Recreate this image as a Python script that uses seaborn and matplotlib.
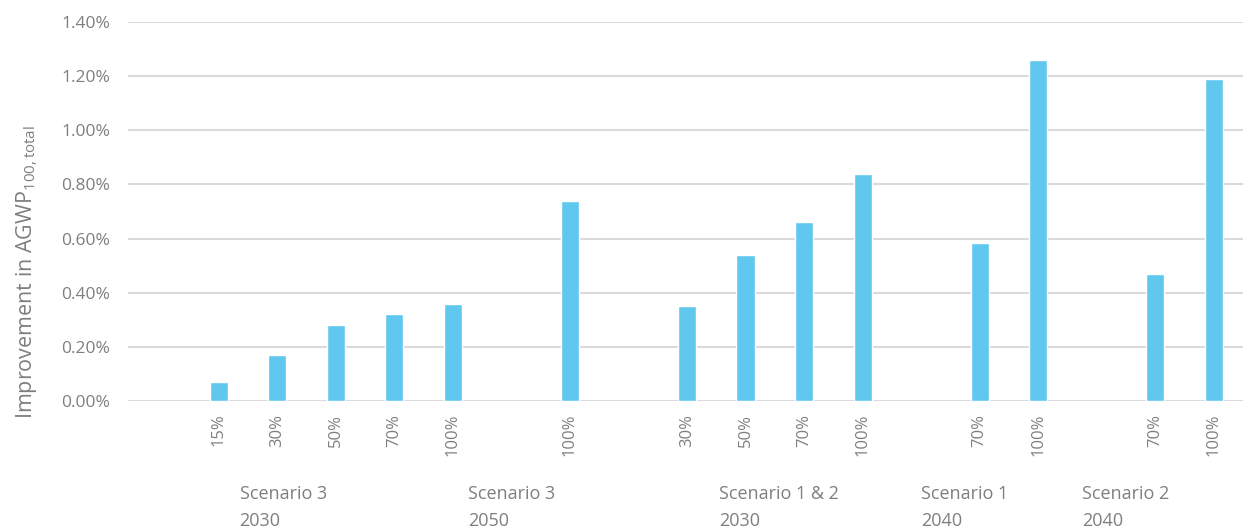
import pandas as pd
import seaborn as sns
import matplotlib.pyplot as plt
import matplotlib.transforms as mtransforms
from matplotlib.ticker import PercentFormatter

# data
groups = ["Scenario 3\n2030"] * 5 + ["Scenario 3\n2050"] + ["Scenario 1 & 2\n2030"] * 4 \
    + ["Scenario 1\n2040"] * 2 + ["Scenario 2\n2040"] * 2
levels = ["15%", "30%", "50%", "70%", "100%",
          "100%",
          "30%", "50%", "70%", "100%",
          "70%", "100%",
          "70%", "100%"]
improvement = [0.07, 0.17, 0.28, 0.32, 0.36,
               0.74,
               0.35, 0.54, 0.66, 0.84,
               0.585, 1.26,
               0.47, 1.19]
group_names = ["Scenario 3\n2030", "Scenario 3\n2050", "Scenario 1 & 2\n2030",
               "Scenario 1\n2040", "Scenario 2\n2040"]
group_label_x = [1.1, 5.0, 9.57, 12.75, 15.5]

# one empty slot between groups
pos = []
p = 0
for i, g in enumerate(groups):
    if i > 0 and g != groups[i - 1]:
        p += 1
    pos.append(p)
    p += 1

df = pd.DataFrame({"pos": pos, "level": levels, "value": improvement})

sns.set_style("white")
plt.rcParams['font.family'] = ['Open Sans', 'DejaVu Sans']
grey = '#7f7f7f'

fig = plt.figure(figsize=(12.48, 5.32), dpi=100)
ax = fig.add_axes([0.1026, 0.2462, 0.8934, 0.7124])

sns.barplot(data=df, x="pos", y="value", native_scale=True, width=0.31,
            color='#60C8EE', saturation=1, ax=ax, zorder=3)

ax.set_xlim(-1.55, 17.5)
ax.set_ylim(0, 1.4)
ax.set_yticks([0, 0.2, 0.4, 0.6, 0.8, 1.0, 1.2, 1.4])
ax.yaxis.set_major_formatter(PercentFormatter(decimals=2))
ax.grid(axis='y', color='#dadada', linewidth=1.5, zorder=0)
ax.set_axisbelow(True)
for s in ax.spines.values():
    s.set_visible(False)

ax.set_xticks(df["pos"])
ax.set_xticklabels(df["level"], rotation=90)
ax.tick_params(axis='x', length=0, pad=9, labelsize=12, labelcolor=grey)
ax.tick_params(axis='y', length=0, pad=13, labelsize=12.5, labelcolor=grey)
ax.set_xlabel("")
ax.set_ylabel(r"Improvement in AGWP$_{\mathregular{100,total}}$", fontsize=15.5, color=grey)
ax.yaxis.set_label_coords(-0.079, 0.34)

trans = mtransforms.blended_transform_factory(ax.transData, ax.transAxes)
for name, x in zip(group_names, group_label_x):
    ax.text(x, -0.222, name, transform=trans, ha='center', va='top',
            multialignment='left', fontsize=13, color=grey, linespacing=1.6)

fig.savefig("out.png", dpi=100)
